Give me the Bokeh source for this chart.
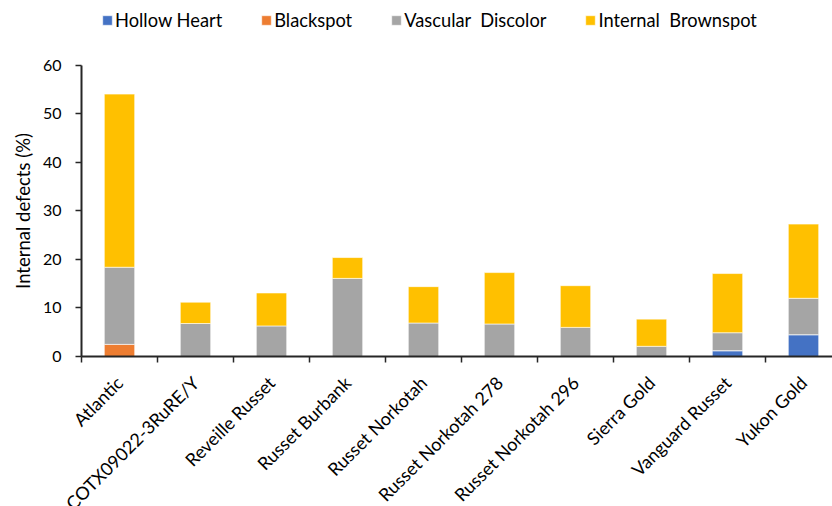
import math
from bokeh.plotting import figure
from bokeh.models import ColumnDataSource, FixedTicker, Legend, LegendItem, Range1d
from bokeh.embed import file_html
from bokeh.resources import INLINE

varieties = ["Atlantic", "COTX09022-3RuRE/Y", "Reveille Russet", "Russet Burbank",
             "Russet Norkotah", "Russet Norkotah 278", "Russet Norkotah 296",
             "Sierra Gold", "Vanguard Russet", "Yukon Gold"]
hollow_heart = [0, 0, 0, 0, 0, 0, 0, 0, 1.2, 4.5]
blackspot = [2.5, 0, 0, 0, 0, 0, 0, 0, 0, 0]
vascular_discolor = [15.9, 6.8, 6.3, 16.1, 6.9, 6.7, 6.0, 2.1, 3.7, 7.5]
internal_brownspot = [35.7, 4.4, 6.8, 4.3, 7.5, 10.6, 8.6, 5.6, 12.2, 15.3]
series_names = ["Hollow Heart", "Blackspot", "Vascular  Discolor", "Internal  Brownspot"]
colors = ["#4472C4", "#ED7D31", "#A5A5A5", "#FFC000"]
y_ticks = [0, 10, 20, 30, 40, 50, 60]

FONT = "Lato"
keys = ["hh", "bs", "vd", "ib"]
src = ColumnDataSource(dict(x=list(range(len(varieties))), hh=hollow_heart, bs=blackspot,
                            vd=vascular_discolor, ib=internal_brownspot))

# The frame covers the whole canvas; both axes are pinned inside it.
# 76 px per category, y axis 81 px from the left; 0 sits 356 px from the top, 60 units <-> 291 px
X0, X1 = -0.5 - 81 / 76, -0.5 + (832 - 81) / 76
p = figure(width=832, height=506, output_backend="svg", toolbar_location=None,
           x_range=Range1d(X0, X1), y_range=Range1d(-30.93, 73.40),
           min_border_left=0, min_border_top=0, min_border_bottom=0, min_border_right=0)
p.outline_line_color = None
p.grid.grid_line_color = None

rs = p.vbar_stack(keys, x="x", width=0.4, source=src, color=colors,
                  line_color="white", line_width=0.6)

# x axis, pinned at y = 0
xa = p.xaxis[0]
xa.fixed_location = 0
xa.bounds = (-0.5, X1)
xa.ticker = FixedTicker(ticks=list(range(len(varieties))),
                        minor_ticks=[i - 0.5 for i in range(len(varieties) + 1)])
xa.major_label_overrides = {i: v for i, v in enumerate(varieties)}
xa.major_label_orientation = math.pi / 4
xa.major_tick_line_color = None
xa.minor_tick_line_color = "#262626"
xa.minor_tick_line_width = 1.5
xa.minor_tick_out = 6
xa.minor_tick_in = 0
xa.axis_line_color = "#262626"
xa.axis_line_width = 2
xa.major_label_text_font = FONT
xa.major_label_text_font_size = "18px"
xa.major_label_text_color = "#000000"
xa.major_label_standoff = 17

# y axis, pinned at the left edge of the first category
ya = p.yaxis[0]
ya.fixed_location = -0.5
ya.ticker = FixedTicker(ticks=y_ticks, minor_ticks=[])
ya.bounds = (0, 60)
ya.axis_line_color = "#262626"
ya.axis_line_width = 2
ya.major_tick_line_color = "#262626"
ya.major_tick_line_width = 1.5
ya.major_tick_out = 6
ya.major_tick_in = 0
ya.major_label_text_font = FONT
ya.major_label_text_font_size = "16px"
ya.major_label_text_color = "#000000"
ya.major_label_standoff = 14
ya.axis_label = "Internal defects (%)"
ya.axis_label_text_font = FONT
ya.axis_label_text_font_size = "18.5px"
ya.axis_label_text_font_style = "normal"
ya.axis_label_text_color = "#000000"
ya.axis_label_standoff = 6

legend = Legend(items=[LegendItem(label=n, renderers=[r]) for n, r in zip(series_names, rs)],
                orientation="horizontal", location=(101, 475),
                glyph_width=12, glyph_height=12, label_standoff=2, spacing=38,
                padding=0, margin=0, border_line_color=None, background_fill_alpha=0,
                label_text_font=FONT, label_text_font_size="18.3px", label_text_color="#000000")
p.add_layout(legend, "center")

open("out.html", "w").write(file_html(p, INLINE))
